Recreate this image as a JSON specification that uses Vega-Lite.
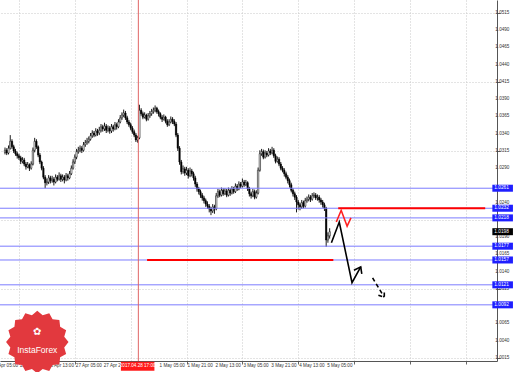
{
  "$schema": "https://vega.github.io/schema/vega-lite/v6.json",
  "width": 497,
  "height": 361,
  "autosize": {"type": "none"},
  "padding": {"left": 0, "top": 0, "right": 21, "bottom": 11},
  "background": "#ffffff",
  "config": {"font": "Liberation Sans", "view": {"stroke": null}},
  "datasets": {
    "one": [{}],
    "xt": [
      {"v":0,"t":"25 Apr 05:00"},
      {"v":16,"t":"25 Apr 21:00"},
      {"v":32,"t":"26 Apr 13:00"},
      {"v":48,"t":"27 Apr 05:00"},
      {"v":64,"t":"27 Apr 21:00"},
      {"v":96,"t":"1 May 05:00"},
      {"v":112,"t":"1 May 21:00"},
      {"v":128,"t":"2 May 13:00"},
      {"v":144,"t":"3 May 05:00"},
      {"v":160,"t":"3 May 21:00"},
      {"v":176,"t":"4 May 13:00"},
      {"v":192,"t":"5 May 05:00"}
    ],
    "yt": [
      {"v":1.0015,"t":"1.0015"},{"v":1.004,"t":"1.0040"},{"v":1.0065,"t":"1.0065"},{"v":1.009,"t":"1.0090"},
      {"v":1.0115,"t":"1.0115"},{"v":1.014,"t":"1.0140"},{"v":1.0165,"t":"1.0165"},{"v":1.019,"t":"1.0190"},
      {"v":1.024,"t":"1.0240"},{"v":1.029,"t":"1.0290"},{"v":1.0315,"t":"1.0315"},
      {"v":1.034,"t":"1.0340"},{"v":1.0365,"t":"1.0365"},{"v":1.039,"t":"1.0390"},{"v":1.0415,"t":"1.0415"},
      {"v":1.044,"t":"1.0440"},{"v":1.0465,"t":"1.0465"},{"v":1.049,"t":"1.0490"},{"v":1.0515,"t":"1.0515"}
    ],
    "c": [
      {"i":8,"o":1.0313,"h":1.0320,"l":1.0310,"c":1.0316},
      {"i":9,"o":1.0316,"h":1.0319,"l":1.0309,"c":1.0312},
      {"i":10,"o":1.0312,"h":1.0323,"l":1.0310,"c":1.0319},
      {"i":11,"o":1.0319,"h":1.0338,"l":1.0317,"c":1.0329},
      {"i":12,"o":1.0329,"h":1.0332,"l":1.0318,"c":1.0321},
      {"i":13,"o":1.0321,"h":1.0324,"l":1.0312,"c":1.0315},
      {"i":14,"o":1.0315,"h":1.0318,"l":1.0308,"c":1.0311},
      {"i":15,"o":1.0311,"h":1.0314,"l":1.0304,"c":1.0308},
      {"i":16,"o":1.0308,"h":1.0311,"l":1.0302,"c":1.0305},
      {"i":17,"o":1.0305,"h":1.0308,"l":1.0296,"c":1.0300},
      {"i":18,"o":1.0300,"h":1.0306,"l":1.0297,"c":1.0302},
      {"i":19,"o":1.0302,"h":1.0305,"l":1.0293,"c":1.0296},
      {"i":20,"o":1.0296,"h":1.0299,"l":1.0288,"c":1.0292},
      {"i":21,"o":1.0292,"h":1.0299,"l":1.0290,"c":1.0295},
      {"i":22,"o":1.0295,"h":1.0297,"l":1.0286,"c":1.0290},
      {"i":23,"o":1.0290,"h":1.0300,"l":1.0288,"c":1.0296},
      {"i":24,"o":1.0296,"h":1.0320,"l":1.0294,"c":1.0316},
      {"i":25,"o":1.0316,"h":1.0334,"l":1.0313,"c":1.0329},
      {"i":26,"o":1.0329,"h":1.0332,"l":1.0318,"c":1.0321},
      {"i":27,"o":1.0321,"h":1.0323,"l":1.0306,"c":1.0309},
      {"i":28,"o":1.0309,"h":1.0312,"l":1.0296,"c":1.0299},
      {"i":29,"o":1.0299,"h":1.0301,"l":1.0287,"c":1.0290},
      {"i":30,"o":1.0290,"h":1.0293,"l":1.0274,"c":1.0277},
      {"i":31,"o":1.0277,"h":1.0280,"l":1.0261,"c":1.0269},
      {"i":32,"o":1.0269,"h":1.0275,"l":1.0265,"c":1.0270},
      {"i":33,"o":1.0270,"h":1.0280,"l":1.0267,"c":1.0276},
      {"i":34,"o":1.0276,"h":1.0279,"l":1.0268,"c":1.0272},
      {"i":35,"o":1.0272,"h":1.0279,"l":1.0269,"c":1.0274},
      {"i":36,"o":1.0274,"h":1.0277,"l":1.0265,"c":1.0270},
      {"i":37,"o":1.0270,"h":1.0281,"l":1.0268,"c":1.0277},
      {"i":38,"o":1.0277,"h":1.0280,"l":1.0271,"c":1.0274},
      {"i":39,"o":1.0274,"h":1.0284,"l":1.0272,"c":1.0279},
      {"i":40,"o":1.0279,"h":1.0282,"l":1.0270,"c":1.0274},
      {"i":41,"o":1.0274,"h":1.0281,"l":1.0271,"c":1.0277},
      {"i":42,"o":1.0277,"h":1.0280,"l":1.0268,"c":1.0273},
      {"i":43,"o":1.0273,"h":1.0283,"l":1.0271,"c":1.0279},
      {"i":44,"o":1.0279,"h":1.0282,"l":1.0272,"c":1.0276},
      {"i":45,"o":1.0276,"h":1.0286,"l":1.0274,"c":1.0282},
      {"i":46,"o":1.0282,"h":1.0294,"l":1.0280,"c":1.0290},
      {"i":47,"o":1.0290,"h":1.0303,"l":1.0288,"c":1.0299},
      {"i":48,"o":1.0299,"h":1.0310,"l":1.0296,"c":1.0306},
      {"i":49,"o":1.0306,"h":1.0318,"l":1.0303,"c":1.0314},
      {"i":50,"o":1.0314,"h":1.0321,"l":1.0311,"c":1.0316},
      {"i":51,"o":1.0316,"h":1.0323,"l":1.0313,"c":1.0319},
      {"i":52,"o":1.0319,"h":1.0322,"l":1.0312,"c":1.0316},
      {"i":53,"o":1.0316,"h":1.0328,"l":1.0314,"c":1.0324},
      {"i":54,"o":1.0324,"h":1.0331,"l":1.0321,"c":1.0327},
      {"i":55,"o":1.0327,"h":1.0334,"l":1.0324,"c":1.0329},
      {"i":56,"o":1.0329,"h":1.0336,"l":1.0326,"c":1.0332},
      {"i":57,"o":1.0332,"h":1.0341,"l":1.0330,"c":1.0337},
      {"i":58,"o":1.0337,"h":1.0345,"l":1.0334,"c":1.0341},
      {"i":59,"o":1.0341,"h":1.0344,"l":1.0335,"c":1.0338},
      {"i":60,"o":1.0338,"h":1.0348,"l":1.0336,"c":1.0344},
      {"i":61,"o":1.0344,"h":1.0347,"l":1.0337,"c":1.0341},
      {"i":62,"o":1.0341,"h":1.0350,"l":1.0338,"c":1.0345},
      {"i":63,"o":1.0345,"h":1.0354,"l":1.0342,"c":1.0350},
      {"i":64,"o":1.0350,"h":1.0353,"l":1.0343,"c":1.0347},
      {"i":65,"o":1.0347,"h":1.0356,"l":1.0344,"c":1.0351},
      {"i":66,"o":1.0351,"h":1.0354,"l":1.0341,"c":1.0345},
      {"i":67,"o":1.0345,"h":1.0352,"l":1.0342,"c":1.0348},
      {"i":68,"o":1.0348,"h":1.0351,"l":1.0340,"c":1.0344},
      {"i":69,"o":1.0344,"h":1.0354,"l":1.0341,"c":1.0350},
      {"i":70,"o":1.0350,"h":1.0353,"l":1.0343,"c":1.0347},
      {"i":71,"o":1.0347,"h":1.0357,"l":1.0345,"c":1.0353},
      {"i":72,"o":1.0353,"h":1.0356,"l":1.0346,"c":1.0350},
      {"i":73,"o":1.0350,"h":1.0361,"l":1.0348,"c":1.0357},
      {"i":74,"o":1.0357,"h":1.0367,"l":1.0355,"c":1.0363},
      {"i":75,"o":1.0363,"h":1.0371,"l":1.0360,"c":1.0367},
      {"i":76,"o":1.0367,"h":1.0375,"l":1.0364,"c":1.0370},
      {"i":77,"o":1.0370,"h":1.0373,"l":1.0360,"c":1.0363},
      {"i":78,"o":1.0363,"h":1.0366,"l":1.0354,"c":1.0357},
      {"i":79,"o":1.0357,"h":1.0360,"l":1.0350,"c":1.0353},
      {"i":80,"o":1.0353,"h":1.0356,"l":1.0345,"c":1.0348},
      {"i":81,"o":1.0348,"h":1.0351,"l":1.0340,"c":1.0343},
      {"i":82,"o":1.0343,"h":1.0346,"l":1.0335,"c":1.0338},
      {"i":83,"o":1.0338,"h":1.0341,"l":1.0328,"c":1.0331},
      {"i":84,"o":1.0331,"h":1.0337,"l":1.0327,"c":1.0334},
      {"i":85,"o":1.0334,"h":1.0382,"l":1.0332,"c":1.0374},
      {"i":86,"o":1.0374,"h":1.0377,"l":1.0366,"c":1.0369},
      {"i":87,"o":1.0369,"h":1.0372,"l":1.0361,"c":1.0364},
      {"i":88,"o":1.0364,"h":1.0371,"l":1.0362,"c":1.0367},
      {"i":89,"o":1.0367,"h":1.0369,"l":1.0358,"c":1.0361},
      {"i":90,"o":1.0361,"h":1.0370,"l":1.0359,"c":1.0366},
      {"i":91,"o":1.0366,"h":1.0373,"l":1.0363,"c":1.0369},
      {"i":92,"o":1.0369,"h":1.0376,"l":1.0366,"c":1.0372},
      {"i":93,"o":1.0372,"h":1.0378,"l":1.0369,"c":1.0374},
      {"i":94,"o":1.0374,"h":1.0381,"l":1.0371,"c":1.0377},
      {"i":95,"o":1.0377,"h":1.0379,"l":1.0369,"c":1.0372},
      {"i":96,"o":1.0372,"h":1.0375,"l":1.0365,"c":1.0369},
      {"i":97,"o":1.0369,"h":1.0371,"l":1.0361,"c":1.0364},
      {"i":98,"o":1.0364,"h":1.0367,"l":1.0357,"c":1.0361},
      {"i":99,"o":1.0361,"h":1.0368,"l":1.0359,"c":1.0364},
      {"i":100,"o":1.0364,"h":1.0366,"l":1.0355,"c":1.0358},
      {"i":101,"o":1.0358,"h":1.0361,"l":1.0350,"c":1.0353},
      {"i":102,"o":1.0353,"h":1.0361,"l":1.0351,"c":1.0357},
      {"i":103,"o":1.0357,"h":1.0365,"l":1.0355,"c":1.0361},
      {"i":104,"o":1.0361,"h":1.0364,"l":1.0354,"c":1.0358},
      {"i":105,"o":1.0358,"h":1.0361,"l":1.0351,"c":1.0354},
      {"i":106,"o":1.0354,"h":1.0357,"l":1.0335,"c":1.0338},
      {"i":107,"o":1.0338,"h":1.0341,"l":1.0315,"c":1.0319},
      {"i":108,"o":1.0319,"h":1.0322,"l":1.0295,"c":1.0299},
      {"i":109,"o":1.0299,"h":1.0302,"l":1.0281,"c":1.0285},
      {"i":110,"o":1.0285,"h":1.0294,"l":1.0282,"c":1.0289},
      {"i":111,"o":1.0289,"h":1.0292,"l":1.0279,"c":1.0283},
      {"i":112,"o":1.0283,"h":1.0292,"l":1.0280,"c":1.0287},
      {"i":113,"o":1.0287,"h":1.0290,"l":1.0275,"c":1.0279},
      {"i":114,"o":1.0279,"h":1.0291,"l":1.0277,"c":1.0286},
      {"i":115,"o":1.0286,"h":1.0289,"l":1.0278,"c":1.0282},
      {"i":116,"o":1.0282,"h":1.0285,"l":1.0272,"c":1.0276},
      {"i":117,"o":1.0276,"h":1.0279,"l":1.0263,"c":1.0267},
      {"i":118,"o":1.0267,"h":1.0270,"l":1.0256,"c":1.0260},
      {"i":119,"o":1.0260,"h":1.0263,"l":1.0252,"c":1.0256},
      {"i":120,"o":1.0256,"h":1.0259,"l":1.0247,"c":1.0251},
      {"i":121,"o":1.0251,"h":1.0254,"l":1.0243,"c":1.0247},
      {"i":122,"o":1.0247,"h":1.0250,"l":1.0239,"c":1.0243},
      {"i":123,"o":1.0243,"h":1.0246,"l":1.0234,"c":1.0238},
      {"i":124,"o":1.0238,"h":1.0242,"l":1.0231,"c":1.0235},
      {"i":125,"o":1.0235,"h":1.0238,"l":1.0226,"c":1.0231},
      {"i":126,"o":1.0231,"h":1.0234,"l":1.0222,"c":1.0228},
      {"i":127,"o":1.0228,"h":1.0238,"l":1.0225,"c":1.0234},
      {"i":128,"o":1.0234,"h":1.0237,"l":1.0224,"c":1.0231},
      {"i":129,"o":1.0231,"h":1.0254,"l":1.0229,"c":1.0250},
      {"i":130,"o":1.0250,"h":1.0260,"l":1.0247,"c":1.0256},
      {"i":131,"o":1.0256,"h":1.0259,"l":1.0248,"c":1.0251},
      {"i":132,"o":1.0251,"h":1.0262,"l":1.0249,"c":1.0258},
      {"i":133,"o":1.0258,"h":1.0261,"l":1.0250,"c":1.0253},
      {"i":134,"o":1.0253,"h":1.0261,"l":1.0251,"c":1.0257},
      {"i":135,"o":1.0257,"h":1.0260,"l":1.0248,"c":1.0251},
      {"i":136,"o":1.0251,"h":1.0262,"l":1.0249,"c":1.0258},
      {"i":137,"o":1.0258,"h":1.0261,"l":1.0250,"c":1.0254},
      {"i":138,"o":1.0254,"h":1.0264,"l":1.0252,"c":1.0260},
      {"i":139,"o":1.0260,"h":1.0263,"l":1.0253,"c":1.0256},
      {"i":140,"o":1.0256,"h":1.0268,"l":1.0254,"c":1.0264},
      {"i":141,"o":1.0264,"h":1.0267,"l":1.0257,"c":1.0260},
      {"i":142,"o":1.0260,"h":1.0271,"l":1.0258,"c":1.0267},
      {"i":143,"o":1.0267,"h":1.0270,"l":1.0261,"c":1.0264},
      {"i":144,"o":1.0264,"h":1.0275,"l":1.0262,"c":1.0270},
      {"i":145,"o":1.0270,"h":1.0273,"l":1.0263,"c":1.0266},
      {"i":146,"o":1.0266,"h":1.0273,"l":1.0264,"c":1.0269},
      {"i":147,"o":1.0269,"h":1.0271,"l":1.0257,"c":1.0260},
      {"i":148,"o":1.0260,"h":1.0263,"l":1.0249,"c":1.0253},
      {"i":149,"o":1.0253,"h":1.0256,"l":1.0246,"c":1.0250},
      {"i":150,"o":1.0250,"h":1.0260,"l":1.0248,"c":1.0256},
      {"i":151,"o":1.0256,"h":1.0259,"l":1.0245,"c":1.0248},
      {"i":152,"o":1.0248,"h":1.0258,"l":1.0246,"c":1.0254},
      {"i":153,"o":1.0254,"h":1.0291,"l":1.0252,"c":1.0287},
      {"i":154,"o":1.0287,"h":1.0316,"l":1.0285,"c":1.0311},
      {"i":155,"o":1.0311,"h":1.0318,"l":1.0308,"c":1.0314},
      {"i":156,"o":1.0314,"h":1.0317,"l":1.0303,"c":1.0306},
      {"i":157,"o":1.0306,"h":1.0316,"l":1.0304,"c":1.0312},
      {"i":158,"o":1.0312,"h":1.0315,"l":1.0306,"c":1.0309},
      {"i":159,"o":1.0309,"h":1.0319,"l":1.0307,"c":1.0315},
      {"i":160,"o":1.0315,"h":1.0318,"l":1.0309,"c":1.0312},
      {"i":161,"o":1.0312,"h":1.0321,"l":1.0310,"c":1.0316},
      {"i":162,"o":1.0316,"h":1.0319,"l":1.0305,"c":1.0308},
      {"i":163,"o":1.0308,"h":1.0311,"l":1.0297,"c":1.0300},
      {"i":164,"o":1.0300,"h":1.0307,"l":1.0298,"c":1.0303},
      {"i":165,"o":1.0303,"h":1.0306,"l":1.0293,"c":1.0296},
      {"i":166,"o":1.0296,"h":1.0299,"l":1.0287,"c":1.0290},
      {"i":167,"o":1.0290,"h":1.0293,"l":1.0284,"c":1.0287},
      {"i":168,"o":1.0287,"h":1.0290,"l":1.0278,"c":1.0282},
      {"i":169,"o":1.0282,"h":1.0285,"l":1.0274,"c":1.0277},
      {"i":170,"o":1.0277,"h":1.0280,"l":1.0268,"c":1.0272},
      {"i":171,"o":1.0272,"h":1.0275,"l":1.0262,"c":1.0266},
      {"i":172,"o":1.0266,"h":1.0269,"l":1.0255,"c":1.0258},
      {"i":173,"o":1.0258,"h":1.0261,"l":1.0249,"c":1.0253},
      {"i":174,"o":1.0253,"h":1.0256,"l":1.0244,"c":1.0248},
      {"i":175,"o":1.0248,"h":1.0251,"l":1.0226,"c":1.0241},
      {"i":176,"o":1.0241,"h":1.0244,"l":1.0230,"c":1.0237},
      {"i":177,"o":1.0237,"h":1.0240,"l":1.0229,"c":1.0234},
      {"i":178,"o":1.0234,"h":1.0244,"l":1.0231,"c":1.0240},
      {"i":179,"o":1.0240,"h":1.0243,"l":1.0232,"c":1.0235},
      {"i":180,"o":1.0235,"h":1.0247,"l":1.0233,"c":1.0243},
      {"i":181,"o":1.0243,"h":1.0249,"l":1.0240,"c":1.0245},
      {"i":182,"o":1.0245,"h":1.0252,"l":1.0242,"c":1.0248},
      {"i":183,"o":1.0248,"h":1.0251,"l":1.0241,"c":1.0245},
      {"i":184,"o":1.0245,"h":1.0254,"l":1.0243,"c":1.0250},
      {"i":185,"o":1.0250,"h":1.0255,"l":1.0247,"c":1.0251},
      {"i":186,"o":1.0251,"h":1.0254,"l":1.0244,"c":1.0247},
      {"i":187,"o":1.0247,"h":1.0252,"l":1.0243,"c":1.0248},
      {"i":188,"o":1.0248,"h":1.0251,"l":1.0240,"c":1.0244},
      {"i":189,"o":1.0244,"h":1.0247,"l":1.0237,"c":1.0241},
      {"i":190,"o":1.0241,"h":1.0244,"l":1.0233,"c":1.0237},
      {"i":191,"o":1.0237,"h":1.0240,"l":1.0228,"c":1.0232},
      {"i":192,"o":1.0232,"h":1.0234,"l":1.0176,"c":1.0186},
      {"i":193,"o":1.0186,"h":1.0197,"l":1.0182,"c":1.0192},
      {"i":194,"o":1.0192,"h":1.0203,"l":1.0188,"c":1.0198}
    ],
    "boxes": [
      {"p":1.0261,"t":"1.0261","k":"b"},
      {"p":1.0232,"t":"1.0232","k":"b"},
      {"p":1.0218,"t":"1.0218","k":"b"},
      {"p":1.0177,"t":"1.0177","k":"b"},
      {"p":1.0157,"t":"1.0157","k":"b"},
      {"p":1.0121,"t":"1.0121","k":"b"},
      {"p":1.0092,"t":"1.0092","k":"b"},
      {"p":1.0198,"t":"1.0198","k":"k"}
    ],
    "red": [
      {"a":198.9,"b":283.1,"p":1.0232},
      {"a":89.4,"b":196.1,"p":1.0157}
    ],
    "paths": [
      {"g":"s1","s":"solid","n":1,"i":195.0,"p":1.0182},
      {"g":"s1","s":"solid","n":2,"i":199.5,"p":1.0212},
      {"g":"s1","s":"solid","n":3,"i":206.8,"p":1.0124},
      {"g":"s1","s":"solid","n":4,"i":211.8,"p":1.0147},
      {"g":"s2","s":"solid","n":1,"i":207.9,"p":1.0142},
      {"g":"s2","s":"solid","n":2,"i":211.8,"p":1.0147},
      {"g":"s2","s":"solid","n":3,"i":212.4,"p":1.0137},
      {"g":"d1","s":"dash","n":1,"i":218.6,"p":1.0131},
      {"g":"d1","s":"dash","n":2,"i":225.3,"p":1.0103},
      {"g":"d2","s":"dash","n":1,"i":221.9,"p":1.0106},
      {"g":"d2","s":"dash","n":2,"i":225.3,"p":1.0103},
      {"g":"d2","s":"dash","n":3,"i":225.3,"p":1.0114},
      {"g":"r1","s":"red","n":1,"i":197.8,"p":1.0212},
      {"g":"r1","s":"red","n":2,"i":200.6,"p":1.0229},
      {"g":"r1","s":"red","n":3,"i":204.0,"p":1.0206},
      {"g":"r1","s":"red","n":4,"i":206.2,"p":1.0218}
    ]
  },
  "layer": [
    {
      "data": {"name": "c"},
      "mark": {"type": "rule", "color": "#000000", "strokeWidth": 0.9},
      "encoding": {
        "x": {
          "field": "i", "type": "quantitative",
          "scale": {"domain": [8, 287], "nice": false, "zero": false},
          "axis": {
            "title": null,
            "values": [0,16,32,48,64,80,96,112,128,144,160,176,192,208,224,240,256,272],
            "labels": false,
            "tickSize": 3, "tickColor": "#666666", "domainColor": "#555555",
            "grid": true, "gridColor": "#c8c8c8", "gridDash": [1, 2]
          }
        },
        "y": {
          "field": "l", "type": "quantitative",
          "scale": {"domain": [1.00106, 1.05338], "nice": false, "zero": false},
          "axis": {
            "title": null, "orient": "right",
            "values": [1.0015,1.004,1.0065,1.009,1.0115,1.014,1.0165,1.019,1.0215,1.024,1.0265,1.029,1.0315,1.034,1.0365,1.039,1.0415,1.044,1.0465,1.049,1.0515],
            "labels": false,
            "tickSize": 3, "tickColor": "#666666", "domainColor": "#555555",
            "grid": true, "gridColor": "#c8c8c8", "gridDash": [1, 2]
          }
        },
        "y2": {"field": "h"}
      }
    },
    {
      "data": {"name": "c"},
      "mark": {"type": "bar", "width": 1.4, "stroke": "#000000", "strokeWidth": 0.5},
      "encoding": {
        "x": {"field": "i", "type": "quantitative"},
        "y": {"field": "o", "type": "quantitative"},
        "y2": {"field": "c"},
        "color": {"condition": {"test": "datum.c >= datum.o", "value": "#ffffff"}, "value": "#000000"}
      }
    },
    {
      "data": {"name": "xt"},
      "mark": {"type": "text", "color": "#333333", "fontSize": 4.6, "align": "left", "baseline": "middle", "dx": 1},
      "encoding": {
        "x": {"field": "v", "type": "quantitative"},
        "y": {"datum": 1.0003, "type": "quantitative"},
        "text": {"field": "t"}
      }
    },
    {
      "data": {"name": "yt"},
      "mark": {"type": "text", "color": "#333333", "fontSize": 4.6, "align": "left", "baseline": "middle"},
      "encoding": {
        "x": {"datum": 288.9, "type": "quantitative"},
        "y": {"field": "v", "type": "quantitative"},
        "text": {"field": "t"}
      }
    },
    {
      "data": {"name": "boxes"},
      "transform": [{"filter": "datum.k == 'b'"}],
      "mark": {"type": "rule", "color": "#7c7cff", "strokeWidth": 1},
      "encoding": {"y": {"field": "p", "type": "quantitative"}}
    },
    {
      "data": {"name": "red"},
      "mark": {"type": "rule", "color": "#ff0000", "strokeWidth": 2},
      "encoding": {
        "x": {"field": "a", "type": "quantitative"},
        "x2": {"field": "b"},
        "y": {"field": "p", "type": "quantitative"}
      }
    },
    {
      "data": {"name": "one"},
      "mark": {"type": "rule", "color": "#e06666", "strokeWidth": 1},
      "encoding": {"x": {"datum": 84.4, "type": "quantitative"}}
    },
    {
      "data": {"name": "paths"},
      "transform": [{"filter": "datum.s == 'solid'"}],
      "mark": {"type": "line", "color": "#000000", "strokeWidth": 1.6},
      "encoding": {
        "x": {"field": "i", "type": "quantitative"},
        "y": {"field": "p", "type": "quantitative"},
        "detail": {"field": "g"},
        "order": {"field": "n"}
      }
    },
    {
      "data": {"name": "paths"},
      "transform": [{"filter": "datum.s == 'dash'"}],
      "mark": {"type": "line", "color": "#000000", "strokeWidth": 1.6, "strokeDash": [4, 3]},
      "encoding": {
        "x": {"field": "i", "type": "quantitative"},
        "y": {"field": "p", "type": "quantitative"},
        "detail": {"field": "g"},
        "order": {"field": "n"}
      }
    },
    {
      "data": {"name": "paths"},
      "transform": [{"filter": "datum.s == 'red'"}],
      "mark": {"type": "line", "color": "#ff2020", "strokeWidth": 1.6},
      "encoding": {
        "x": {"field": "i", "type": "quantitative"},
        "y": {"field": "p", "type": "quantitative"},
        "detail": {"field": "g"},
        "order": {"field": "n"}
      }
    },
    {
      "data": {"name": "boxes"},
      "mark": {"type": "rule", "strokeWidth": 7, "strokeCap": "butt"},
      "encoding": {
        "x": {"datum": 287.2, "type": "quantitative"},
        "x2": {"datum": 299},
        "y": {"field": "p", "type": "quantitative"},
        "color": {"condition": {"test": "datum.k == 'k'", "value": "#000000"}, "value": "#1f1fff"}
      }
    },
    {
      "data": {"name": "boxes"},
      "mark": {"type": "text", "color": "#ffffff", "fontSize": 4.8, "align": "left", "baseline": "middle"},
      "encoding": {
        "x": {"datum": 288.3, "type": "quantitative"},
        "y": {"field": "p", "type": "quantitative"},
        "text": {"field": "t"}
      }
    },
    {
      "data": {"name": "one"},
      "mark": {"type": "rule", "color": "#ff1a1a", "strokeWidth": 9, "strokeCap": "butt"},
      "encoding": {
        "x": {"datum": 74.4, "type": "quantitative"},
        "x2": {"datum": 93.6},
        "y": {"datum": 1.0003, "type": "quantitative"}
      }
    },
    {
      "data": {"name": "one"},
      "mark": {"type": "text", "color": "#ffffff", "fontSize": 4.6, "align": "center", "baseline": "middle", "text": "2017.04.28 17:00"},
      "encoding": {
        "x": {"datum": 84, "type": "quantitative"},
        "y": {"datum": 1.0003, "type": "quantitative"}
      }
    },
    {
      "data": {"name": "one"},
      "mark": {"type": "point", "filled": true, "color": "#e2393e", "opacity": 1, "size": 3900,
        "shape": "M1,0L0.863,0.172L0.924,0.383L0.732,0.489L0.707,0.707L0.489,0.732L0.383,0.924L0.172,0.863L0,1L-0.172,0.863L-0.383,0.924L-0.489,0.732L-0.707,0.707L-0.732,0.489L-0.924,0.383L-0.863,0.172L-1,0L-0.863,-0.172L-0.924,-0.383L-0.732,-0.489L-0.707,-0.707L-0.489,-0.732L-0.383,-0.924L-0.172,-0.863L0,-1L0.172,-0.863L0.383,-0.924L0.489,-0.732L0.707,-0.707L0.732,-0.489L0.924,-0.383L0.863,-0.172Z"},
      "encoding": {
        "x": {"datum": 26.5, "type": "quantitative"},
        "y": {"datum": 1.0038, "type": "quantitative"}
      }
    },
    {
      "data": {"name": "one"},
      "mark": {"type": "text", "color": "#ffffff", "fontSize": 8.5, "align": "center", "baseline": "middle", "text": "InstaForex"},
      "encoding": {
        "x": {"datum": 26.5, "type": "quantitative"},
        "y": {"datum": 1.00265, "type": "quantitative"}
      }
    },
    {
      "data": {"name": "one"},
      "mark": {"type": "text", "color": "#ffffff", "fontSize": 10, "align": "center", "baseline": "middle", "text": "✿", "font": "DejaVu Sans"},
      "encoding": {
        "x": {"datum": 26.5, "type": "quantitative"},
        "y": {"datum": 1.0052, "type": "quantitative"}
      }
    }
  ]
}
